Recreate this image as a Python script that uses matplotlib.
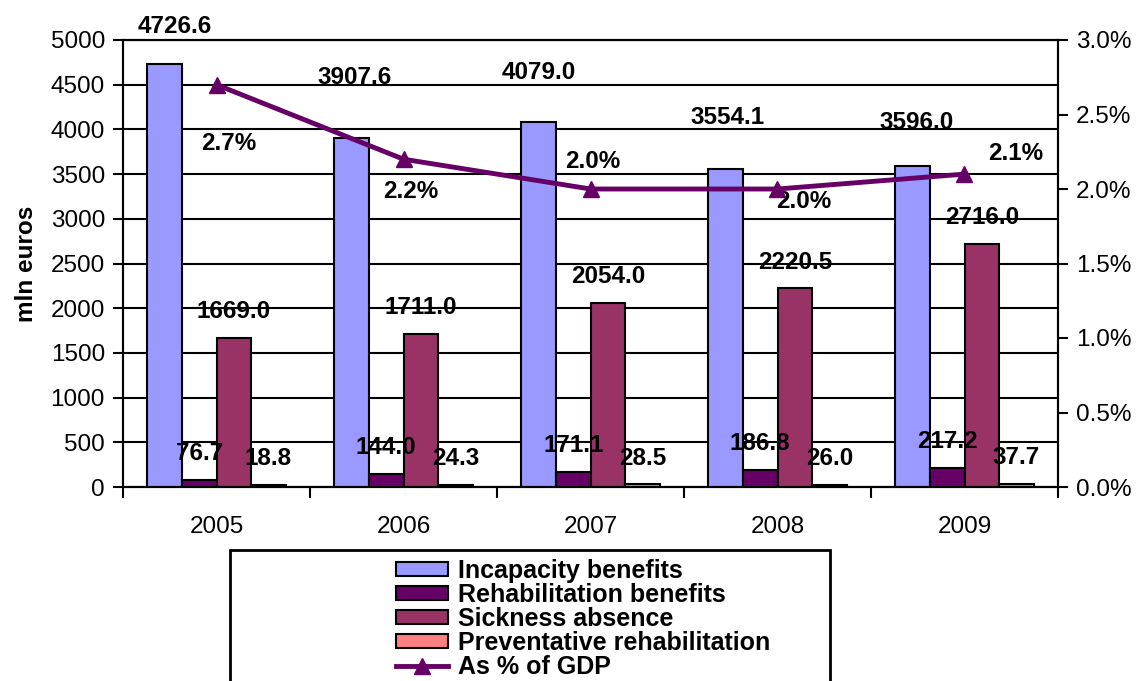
import matplotlib
matplotlib.use("Agg")
import matplotlib.pyplot as plt
import numpy as np
from matplotlib.patches import Rectangle
from matplotlib.ticker import FuncFormatter, FixedLocator

# ============ DATA ============
years = ["2005", "2006", "2007", "2008", "2009"]
incapacity = [4726.6, 3907.6, 4079.0, 3554.1, 3596.0]
rehabilitation = [76.7, 144.0, 171.1, 186.8, 217.2]
sickness = [1669.0, 1711.0, 2054.0, 2220.5, 2716.0]
preventative = [18.8, 24.3, 28.5, 26.0, 37.7]
gdp_share = [2.7, 2.2, 2.0, 2.0, 2.1]

# ============ STYLE ============
plt.rcParams["font.family"] = ["Liberation Sans", "DejaVu Sans"]
W, H = 1138, 681
FS = 17.5
BAR_W = 0.185
COLORS = {
    "Incapacity benefits": "#9999FF",
    "Rehabilitation benefits": "#660066",
    "Sickness absence": "#993366",
    "Preventative rehabilitation": "#FF8080",
}
LINE_COLOR = "#660066"

# label offsets in points (label placement in the original is uneven)
incap_offsets = [(7, 27), (2, 43), (0, 36), (1.5, 37), (3, 31)]
pct_offsets = [(9, -42), (5, -23), (1.5, 19.5), (19, -9), (37, 15)]
small_offset = (0, 19)


def add_labels(ax, xs, vals, offsets):
    for x, v, off in zip(xs, vals, offsets):
        ax.annotate(f"{v:.1f}", (x, v), xytext=off, textcoords="offset points",
                    ha="center", va="center", fontsize=FS, fontweight="bold",
                    annotation_clip=False, zorder=5)


fig = plt.figure(figsize=(W / 100, H / 100), dpi=100)
ax = fig.add_axes([123 / W, 1 - 487 / H, (1058 - 123) / W, 447 / H])

x = np.arange(len(years))
series = [
    ("Incapacity benefits", incapacity),
    ("Rehabilitation benefits", rehabilitation),
    ("Sickness absence", sickness),
    ("Preventative rehabilitation", preventative),
]
handles = []
for i, (name, vals) in enumerate(series):
    xs = x + (i - 1.5) * BAR_W
    b = ax.bar(xs, vals, BAR_W, color=COLORS[name], edgecolor="black",
               linewidth=1.5, label=name, zorder=3)
    handles.append(b)
    if i == 0:
        add_labels(ax, xs, vals, incap_offsets)
    else:
        add_labels(ax, xs, vals, [small_offset] * len(vals))

# left axis
ax.set_xlim(-0.5, len(years) - 0.5)
ax.set_ylim(0, 5000)
ax.set_yticks(np.arange(0, 5001, 500))
ax.grid(axis="y", color="black", linewidth=1.5, zorder=0)
ax.set_axisbelow(True)
ax.tick_params(axis="y", labelsize=FS, length=7, width=1.5, pad=6, direction="out")
ax.set_ylabel("mln euros", fontsize=FS, fontweight="bold", labelpad=9)

# x axis: category separators as minor ticks
ax.set_xticks(x)
ax.set_xticklabels(years)
ax.xaxis.set_minor_locator(FixedLocator(np.arange(-0.5, len(years), 1.0)))
ax.tick_params(axis="x", which="major", length=0, labelsize=FS, pad=21)
ax.tick_params(axis="x", which="minor", length=8, width=1.5, direction="out")
for s in ax.spines.values():
    s.set_linewidth(1.5)

# right axis: share of GDP
ax2 = ax.twinx()
ax2.set_ylim(0, 3.0)
ax2.set_yticks(np.arange(0, 3.01, 0.5))
ax2.yaxis.set_major_formatter(FuncFormatter(lambda v, p: f"{v:.1f}%"))
ax2.tick_params(axis="y", labelsize=FS, length=7, width=1.5, pad=6)
for s in ax2.spines.values():
    s.set_linewidth(1.5)
line, = ax2.plot(x, gdp_share, color=LINE_COLOR, linewidth=3.5, marker="^",
                 markersize=11, label="As % of GDP", zorder=4)
for xi, v, off in zip(x, gdp_share, pct_offsets):
    ax2.annotate(f"{v:.1f}%", (xi, v), xytext=off, textcoords="offset points",
                 ha="center", va="center", fontsize=FS, fontweight="bold")

# legend box (cut off by the bottom of the picture)
fig.add_artist(Rectangle((230 / W, -0.1), 600 / W, (H - 550) / H + 0.1,
                         transform=fig.transFigure, fill=False,
                         edgecolor="black", linewidth=2))
fig.legend(handles + [line], [h.get_label() for h in handles] + ["As % of GDP"],
           loc="upper left", bbox_to_anchor=(396 / W, 1 - 559 / H),
           frameon=False, borderpad=0, borderaxespad=0,
           prop={"size": 18, "weight": "bold"},
           handlelength=2.08, handleheight=0.52, handletextpad=0.4,
           labelspacing=0.0)

fig.savefig("out.png", dpi=100)
